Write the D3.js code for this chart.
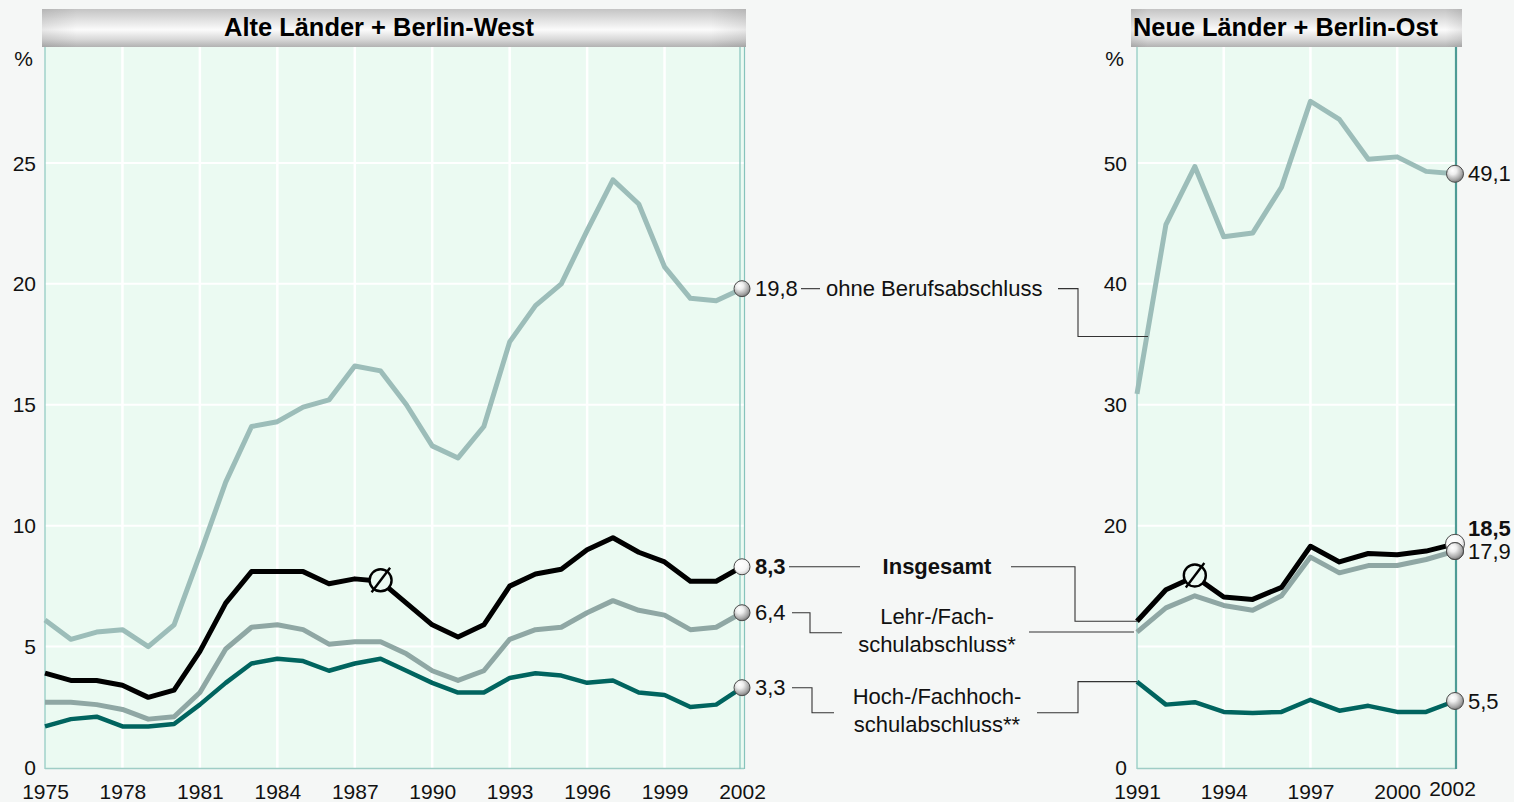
<!DOCTYPE html>
<html>
<head>
<meta charset="utf-8">
<script src="https://cdn.jsdelivr.net/npm/d3@7"></script>
<style>
  html, body { margin: 0; padding: 0; background: #f5f7f6; }
  svg { display: block; }
  text { font-family: "Liberation Sans", Arial, sans-serif; }
</style>
</head>
<body>
<svg id="chart" width="1514" height="802"></svg>
<script>
// ---------- DATA ----------
const titleLeft = "Alte Länder + Berlin-West";
const titleRight = "Neue Länder + Berlin-Ost";

const yearsLeft = d3.range(1975, 2003);
const yearsRight = d3.range(1991, 2003);

const xTicksLeft = [1975, 1978, 1981, 1984, 1987, 1990, 1993, 1996, 1999, 2002];
const xTicksRight = [1991, 1994, 1997, 2000, 2002];
const yTicksLeft = [0, 5, 10, 15, 20, 25];
const yGridLeft = [5, 10, 15, 20, 25];
const yTicksRight = [0, 20, 30, 40, 50];
const yGridRight = [10, 20, 30, 40, 50];

// Alte Länder + Berlin-West (1975-2002)
const ohneLeft = [6.1, 5.3, 5.6, 5.7, 5.0, 5.9, 8.8, 11.8, 14.1, 14.3, 14.9, 15.2, 16.6, 16.4, 15.0, 13.3, 12.8, 14.1, 17.6, 19.1, 20.0, 22.2, 24.3, 23.3, 20.7, 19.4, 19.3, 19.8];
const insgLeft = [3.9, 3.6, 3.6, 3.4, 2.9, 3.2, 4.8, 6.8, 8.1, 8.1, 8.1, 7.6, 7.8, 7.7, 6.8, 5.9, 5.4, 5.9, 7.5, 8.0, 8.2, 9.0, 9.5, 8.9, 8.5, 7.7, 7.7, 8.3];
const lehrLeft = [2.7, 2.7, 2.6, 2.4, 2.0, 2.1, 3.1, 4.9, 5.8, 5.9, 5.7, 5.1, 5.2, 5.2, 4.7, 4.0, 3.6, 4.0, 5.3, 5.7, 5.8, 6.4, 6.9, 6.5, 6.3, 5.7, 5.8, 6.4];
const hochLeft = [1.7, 2.0, 2.1, 1.7, 1.7, 1.8, 2.6, 3.5, 4.3, 4.5, 4.4, 4.0, 4.3, 4.5, 4.0, 3.5, 3.1, 3.1, 3.7, 3.9, 3.8, 3.5, 3.6, 3.1, 3.0, 2.5, 2.6, 3.3];

// Neue Länder + Berlin-Ost (1991-2002)
const ohneRight = [30.9, 44.9, 49.7, 43.9, 44.2, 48.0, 55.1, 53.6, 50.3, 50.5, 49.3, 49.1];
const insgRight = [12.1, 14.7, 15.8, 14.1, 13.9, 14.9, 18.3, 17.0, 17.7, 17.6, 17.9, 18.5];
const lehrRight = [11.2, 13.2, 14.2, 13.4, 13.0, 14.2, 17.4, 16.1, 16.7, 16.7, 17.2, 17.9];
const hochRight = [7.1, 5.2, 5.4, 4.6, 4.5, 4.6, 5.6, 4.7, 5.1, 4.6, 4.6, 5.5];

const endLabelsLeft = ["19,8", "8,3", "6,4", "3,3"];
const endLabelsRight = ["49,1", "18,5", "17,9", "5,5"];
const legendNames = [["ohne Berufsabschluss"], ["Insgesamt"], ["Lehr-/Fach-", "schulabschluss*"], ["Hoch-/Fachhoch-", "schulabschluss**"]];
const averageYearLeft = 1988;
const averageYearRight = 1993;

// ---------- STYLE ----------
const colors = { ohne: "#9cbdb9", insg: "#000000", lehr: "#8fa7a4", hoch: "#00645f" };
const plotFill = "#ebfaf2";
const tickFont = 21;
const labelFont = 22;

const svg = d3.select("#chart");
const defs = svg.append("defs");

// header gradient
const hg = defs.append("linearGradient").attr("id", "hdr").attr("x1", 0).attr("y1", 0).attr("x2", 0).attr("y2", 1);
[[0, "#c4c4c4"], [0.3, "#e2e2e2"], [0.55, "#fbfbfb"], [0.8, "#d8d8d8"], [1, "#b2b2b2"]].forEach(([o, c]) =>
  hg.append("stop").attr("offset", o).attr("stop-color", c));
const hge = defs.append("linearGradient").attr("id", "hdrEdge").attr("x1", 0).attr("y1", 0).attr("x2", 1).attr("y2", 0);
[[0, "rgba(0,0,0,0.08)"], [0.05, "rgba(0,0,0,0)"], [0.95, "rgba(0,0,0,0)"], [1, "rgba(0,0,0,0.08)"]].forEach(([o, c]) =>
  hge.append("stop").attr("offset", o).attr("stop-color", c));

// ball gradient
const bg = defs.append("radialGradient").attr("id", "ball").attr("cx", 0.4).attr("cy", 0.35).attr("r", 0.65).attr("fx", 0.35).attr("fy", 0.3);
[[0, "#ffffff"], [0.35, "#eeeeee"], [0.8, "#a8a8a8"], [1, "#7d7d7d"]].forEach(([o, c]) =>
  bg.append("stop").attr("offset", o).attr("stop-color", c));
const bgw = defs.append("radialGradient").attr("id", "ballW").attr("cx", 0.4).attr("cy", 0.35).attr("r", 0.7);
[[0, "#ffffff"], [0.6, "#f6f6f6"], [1, "#c8c8c8"]].forEach(([o, c]) =>
  bgw.append("stop").attr("offset", o).attr("stop-color", c));

// ---------- SCALES ----------
const plotTop = 45, plotBottom = 768;
const xL = d3.scaleLinear().domain([1975, 2002]).range([45, 742]);
const yL = d3.scaleLinear().domain([0, 30]).range([767.5, 42]);
const xR = d3.scaleLinear().domain([1991, 2002]).range([1137, 1455]);
const yR = d3.scaleLinear().domain([0, 60]).range([767.5, 42]);

function panel(x, y, years, xTicks, yTicks, yGrid, series, cfg) {
  const g = svg.append("g");
  const x0 = x.range()[0], x1 = x.range()[1];
  g.append("rect").attr("x", x0).attr("y", plotTop).attr("width", x1 - x0 + cfg.extra).attr("height", plotBottom - plotTop)
    .attr("fill", plotFill);
  g.selectAll(".hg").data(yGrid).join("line")
    .attr("x1", x0).attr("x2", x1 + cfg.extra).attr("y1", d => y(d)).attr("y2", d => y(d))
    .attr("stroke", "#ffffff").attr("stroke-width", 2);
  g.selectAll(".vg").data(xTicks.filter(d => d !== x.domain()[0] && d !== x.domain()[1])).join("line")
    .attr("x1", d => x(d)).attr("x2", d => x(d)).attr("y1", plotTop).attr("y2", plotBottom)
    .attr("stroke", "#ffffff").attr("stroke-width", 2.5);
  g.append("line").attr("x1", x0).attr("x2", x0).attr("y1", plotTop).attr("y2", plotBottom + 1)
    .attr("stroke", "#8cc8c0").attr("stroke-width", 1.2);
  g.append("line").attr("x1", x0).attr("x2", x1 + cfg.extra).attr("y1", plotBottom + 0.5).attr("y2", plotBottom + 0.5)
    .attr("stroke", "#9fcdc6").attr("stroke-width", 1.5);
  cfg.rightBorders.forEach(b => g.append("line").attr("x1", x1 + b.dx).attr("x2", x1 + b.dx).attr("y1", b.y0 || plotTop).attr("y2", plotBottom + 1)
    .attr("stroke", b.color).attr("stroke-width", b.w));

  const yAxis = d3.axisLeft(y).tickValues(yTicks).tickSize(0).tickPadding(0).tickFormat(d3.format("d"));
  const ya = g.append("g").attr("transform", `translate(${cfg.yLabelX},0)`).call(yAxis);
  ya.select(".domain").remove();
  ya.selectAll("text").attr("font-size", tickFont).attr("fill", "#111").attr("dy", "0.34em")
    .style("font-family", "'Liberation Sans', Arial, sans-serif");
  g.append("text").attr("x", cfg.yLabelX - 3).attr("y", 66).attr("text-anchor", "end")
    .attr("font-size", tickFont).attr("fill", "#111").text("%");

  const xAxis = d3.axisBottom(x).tickValues(xTicks).tickSize(0).tickPadding(0).tickFormat(d3.format("d"));
  const xa = g.append("g").attr("transform", `translate(0,${plotBottom + 14})`).call(xAxis);
  xa.select(".domain").remove();
  xa.selectAll("text").attr("font-size", tickFont).attr("fill", "#111").attr("dy", "0")
    .attr("y", 17)
    .style("font-family", "'Liberation Sans', Arial, sans-serif");
  if (cfg.lastTickDx) xa.selectAll(".tick").filter(d => d === x.domain()[1]).select("text").attr("dx", cfg.lastTickDx).attr("y", 14);

  const line = d3.line().x((d, i) => x(years[i])).y(d => y(d)).curve(d3.curveLinear);
  series.forEach(s => {
    g.append("path").datum(s.values).attr("d", line).attr("fill", "none")
      .attr("stroke", s.color).attr("stroke-width", s.width).attr("stroke-linejoin", "round").attr("stroke-linecap", "butt");
  });

  // average symbol (Ø) on the total line
  const ai = years.indexOf(cfg.avgYear);
  const insg = series.find(s => s.key === "insg").values;
  const ax = x(cfg.avgYear), ay = y(insg[ai]) - 1;
  g.append("circle").attr("cx", ax).attr("cy", ay).attr("r", 11).attr("fill", plotFill)
    .attr("stroke", "#000").attr("stroke-width", 2.4);
  g.append("line").attr("x1", ax - 9).attr("y1", ay + 12).attr("x2", ax + 9.5).attr("y2", ay - 12.5)
    .attr("stroke", "#000").attr("stroke-width", 2.4);
  return g;
}

const seriesLeft = [
  { key: "ohne", values: ohneLeft, color: colors.ohne, width: 5 },
  { key: "lehr", values: lehrLeft, color: colors.lehr, width: 5 },
  { key: "hoch", values: hochLeft, color: colors.hoch, width: 4.5 },
  { key: "insg", values: insgLeft, color: colors.insg, width: 5 }
];
const seriesRight = [
  { key: "ohne", values: ohneRight, color: colors.ohne, width: 5 },
  { key: "lehr", values: lehrRight, color: colors.lehr, width: 5 },
  { key: "hoch", values: hochRight, color: colors.hoch, width: 4.5 },
  { key: "insg", values: insgRight, color: colors.insg, width: 5 }
];

panel(xL, yL, yearsLeft, xTicksLeft, yTicksLeft, yGridLeft, seriesLeft,
  { extra: 2, yLabelX: 36, avgYear: averageYearLeft,
    rightBorders: [{ dx: -2, color: "#86c4bc", w: 1.2 }, { dx: 2.5, color: "#86c4bc", w: 1.2 }] });
panel(xR, yR, yearsRight, xTicksRight, yTicksRight, yGridRight, seriesRight,
  { extra: 1, yLabelX: 1127, avgYear: averageYearRight, lastTickDx: -3,
    rightBorders: [{ dx: 1, color: "#4e9b95", w: 2.2, y0: 44 }] });

// headers
function header(x0, x1, title, anchor, tx, narrow) {
  svg.append("rect").attr("x", x0).attr("y", 9).attr("width", x1 - x0).attr("height", 38).attr("fill", "url(#hdr)");
  svg.append("rect").attr("x", x0).attr("y", 9).attr("width", x1 - x0).attr("height", 38).attr("fill", "url(#hdrEdge)");
  const t = svg.append("text").attr("x", tx).attr("y", 36).attr("text-anchor", anchor)
    .attr("font-size", 25).attr("font-weight", "bold").attr("fill", "#000").text(title);
  if (narrow) {
    t.style("font-family", "'Liberation Sans Narrow', 'Arial Narrow', 'Liberation Sans', Arial, sans-serif")
      .attr("font-size", 26).attr("textLength", narrow).attr("lengthAdjust", "spacingAndGlyphs");
  } else {
    t.attr("textLength", 305).attr("lengthAdjust", "spacingAndGlyphs");
  }
}
header(42, 746, titleLeft, "middle", 379, 310);
header(1131, 1462, titleRight, "start", 1133, null);

// end balls and labels
const order = ["ohne", "insg", "lehr", "hoch"];
order.forEach((k, i) => {
  const s = seriesLeft.find(d => d.key === k);
  const v = s.values[s.values.length - 1];
  const cx = xL(2002), cy = yL(v);
  svg.append("circle").attr("cx", cx).attr("cy", cy).attr("r", 8)
    .attr("fill", k === "insg" ? "url(#ballW)" : "url(#ball)").attr("stroke", "#4a4a4a").attr("stroke-width", 1);
  svg.append("text").attr("x", cx + 13).attr("y", cy).attr("dy", "0.35em")
    .attr("font-size", labelFont).attr("font-weight", k === "insg" ? "bold" : "normal").attr("fill", "#111")
    .text(endLabelsLeft[i]);
});
order.forEach((k) => {
  const s = seriesRight.find(d => d.key === k);
  const v = s.values[s.values.length - 1];
  svg.append("circle").attr("cx", xR(2002)).attr("cy", yR(v)).attr("r", k === "insg" ? 9.5 : 8.5)
    .attr("fill", k === "insg" ? "url(#ballW)" : "url(#ball)").attr("stroke", "#4a4a4a").attr("stroke-width", 1);
});
svg.append("circle").attr("cx", xR(2002)).attr("cy", yR(lehrRight[lehrRight.length - 1])).attr("r", 8.5)
  .attr("fill", "url(#ball)").attr("stroke", "#4a4a4a").attr("stroke-width", 1);
order.forEach((k, i) => {
  const s = seriesRight.find(d => d.key === k);
  const v = s.values[s.values.length - 1];
  const dy = k === "insg" ? -16 : 0;
  svg.append("text").attr("x", xR(2002) + 13).attr("y", yR(v) + dy).attr("dy", "0.35em")
    .attr("font-size", labelFont).attr("font-weight", k === "insg" ? "bold" : "normal").attr("fill", "#111")
    .text(endLabelsRight[i]);
});

// ---------- LEGEND / LEADER LINES ----------
const lead = svg.append("g").attr("fill", "none").attr("stroke", "#333").attr("stroke-width", 1.1);
const midX = 937;
{
  const y0 = yL(ohneLeft[ohneLeft.length - 1]);
  lead.append("path").attr("d", `M801,${y0}H820`);
  const tipX = xR(1991.38);
  const tipY = yR(ohneRight[0] + (ohneRight[1] - ohneRight[0]) * 0.38) + 7;
  lead.append("path").attr("d", `M1058,${y0}H1078V${tipY}H${tipX}`);
  svg.append("text").attr("x", 826).attr("y", y0).attr("dy", "0.35em").attr("font-size", labelFont).attr("fill", "#111")
    .text(legendNames[0][0]);
}
{
  const y0 = yL(insgLeft[insgLeft.length - 1]);
  lead.append("path").attr("d", `M789,${y0}H860`);
  lead.append("path").attr("d", `M1011,${y0}H1075V${yR(insgRight[0])}H${xR(1991)}`);
  svg.append("text").attr("x", midX).attr("y", y0).attr("dy", "0.35em").attr("text-anchor", "middle")
    .attr("font-size", labelFont).attr("font-weight", "bold").attr("fill", "#111").text(legendNames[1][0]);
}
{
  const y0 = yL(lehrLeft[lehrLeft.length - 1]);
  const yMid = y0 + 20;
  lead.append("path").attr("d", `M792,${y0}H810V${yMid}H842`);
  lead.append("path").attr("d", `M1029,${yR(lehrRight[0])}H${xR(1991) - 3}`);
  svg.append("text").attr("x", midX).attr("y", y0 + 4).attr("dy", "0.35em").attr("text-anchor", "middle")
    .attr("font-size", labelFont).attr("fill", "#111").text(legendNames[2][0]);
  svg.append("text").attr("x", midX).attr("y", y0 + 32).attr("dy", "0.35em").attr("text-anchor", "middle")
    .attr("font-size", labelFont).attr("fill", "#111").text(legendNames[2][1]);
}
{
  const y0 = yL(hochLeft[hochLeft.length - 1]);
  const yMid = y0 + 25;
  lead.append("path").attr("d", `M792,${y0}H812V${yMid}H834`);
  lead.append("path").attr("d", `M1037,${yMid}H1078V${yR(hochRight[0])}H${xR(1991)}`);
  svg.append("text").attr("x", midX).attr("y", y0 + 9).attr("dy", "0.35em").attr("text-anchor", "middle")
    .attr("font-size", labelFont).attr("fill", "#111").text(legendNames[3][0]);
  svg.append("text").attr("x", midX).attr("y", y0 + 37).attr("dy", "0.35em").attr("text-anchor", "middle")
    .attr("font-size", labelFont).attr("fill", "#111").text(legendNames[3][1]);
}
</script>
</body>
</html>
